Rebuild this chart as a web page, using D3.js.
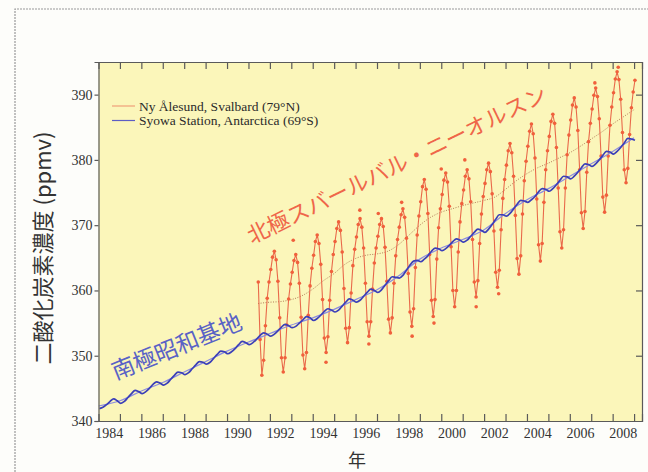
<!DOCTYPE html>
<html>
<head>
<meta charset="utf-8">
<script src="https://cdn.jsdelivr.net/npm/d3@7"></script>
<style>
  body { margin: 0; background: #fdfdfa; }
  svg { display: block; }
</style>
</head>
<body>
<div id="chart"></div>
<script>
// Ny-Alesund, monthly values starting June 1991 (ppmv)
const nyStart = [1991, 6]
const nyAlesund = [
  361.3, 352.5, 347.0, 349.3, 354.6, 358.8, 361.3,
  363.2, 365.1, 366.0, 364.7, 361.4, 355.8, 349.7, 347.5, 349.7, 354.7, 358.7, 361.0,
  362.8, 364.6, 365.5, 364.3, 361.1, 355.9, 350.1, 348.0, 350.5, 356.2, 360.7, 363.4,
  365.4, 367.5, 368.5, 367.2, 364.0, 358.6, 352.7, 350.5, 352.9, 358.5, 362.9, 365.5,
  367.5, 369.5, 370.5, 369.2, 365.9, 360.3, 354.2, 352.0, 354.3, 359.6, 363.8, 366.3,
  368.2, 370.1, 371.0, 369.7, 366.5, 361.1, 355.2, 353.0, 355.2, 360.2, 364.2, 366.5,
  368.3, 370.1, 371.0, 369.8, 366.6, 361.4, 355.6, 353.5, 355.8, 361.1, 365.3, 367.8,
  369.7, 371.6, 372.5, 371.2, 368.0, 362.6, 356.7, 354.5, 357.2, 363.5, 368.5, 371.4,
  373.6, 375.9, 377.0, 375.5, 371.8, 365.5, 358.5, 356.0, 358.6, 364.8, 369.6, 372.5,
  374.7, 376.9, 378.0, 376.6, 372.9, 366.7, 360.0, 357.5, 360.0, 365.9, 370.5, 373.3,
  375.4, 377.5, 378.5, 377.1, 373.6, 367.8, 361.3, 359.0, 361.5, 367.2, 371.7, 374.4,
  376.4, 378.5, 379.5, 378.2, 374.8, 369.1, 362.8, 360.5, 363.1, 369.3, 374.1, 377.0,
  379.2, 381.4, 382.5, 381.1, 377.5, 371.5, 364.9, 362.5, 365.3, 371.7, 376.8, 379.8,
  382.1, 384.4, 385.5, 384.0, 380.3, 374.0, 367.0, 364.5, 367.2, 373.5, 378.5, 381.4,
  383.6, 385.9, 387.0, 385.6, 381.9, 375.7, 369.0, 366.5, 369.3, 375.7, 380.8, 383.8,
  386.1, 388.4, 389.5, 388.1, 384.5, 378.5, 371.9, 369.5, 372.1, 378.1, 382.8, 385.6,
  387.8, 389.9, 391.0, 389.7, 386.3, 380.6, 374.3, 372.0, 374.6, 380.6, 385.3, 388.1,
  390.3, 392.4, 393.5, 392.3, 389.3, 384.2, 378.5, 376.5, 378.7, 383.9, 388.0, 390.4,
  392.2
]
// single samples lying off the monthly curve
const nyScatter = [
  [1993.09, 367.7], [1994.62, 349.0], [1996.2, 372.3], [1996.62, 351.8],
  [1997.06, 371.8], [1998.15, 373.5], [1998.64, 353.0], [1999.66, 355.0],
  [2000.0, 378.6], [2001.1, 380.0], [2001.63, 357.5], [2002.68, 359.5],
  [2007.17, 391.8], [2008.26, 394.2]
]
// smoothed Ny-Alesund trend (dotted)
const nyTrend = [
  [1991.45, 358.0], [1992.0, 358.2], [1992.5, 358.3], [1993.0, 358.6], [1993.5, 359.2],
  [1994.0, 360.2], [1994.5, 361.5], [1995.0, 362.6], [1995.5, 364.0], [1996.0, 364.9],
  [1996.5, 365.4], [1997.0, 365.6], [1997.5, 366.0], [1998.0, 367.0], [1998.5, 368.5],
  [1999.0, 370.0], [1999.5, 371.2], [2000.0, 372.0], [2000.5, 372.5], [2001.0, 373.0],
  [2001.5, 373.4], [2002.0, 373.8], [2002.5, 374.3], [2003.0, 375.5], [2003.5, 376.8],
  [2004.0, 377.9], [2004.5, 378.8], [2005.0, 379.5], [2005.5, 380.3], [2006.0, 381.1],
  [2006.5, 382.1], [2007.0, 383.2], [2007.5, 384.3], [2008.0, 385.5], [2008.5, 386.6],
  [2009.0, 387.7]
]

// Syowa, bimonthly values (Jan, Mar, May, Jul, Sep, Nov) from Jan 1984
const syowa = [
  341.9, 342.1, 342.5, 343.0, 343.4, 343.1,
  342.7, 343.0, 343.6, 344.2, 344.7, 344.5,
  344.2, 344.5, 345.0, 345.6, 346.0, 345.8,
  345.5, 345.8, 346.4, 347.0, 347.5, 347.4,
  347.1, 347.4, 348.0, 348.6, 349.1, 349.0,
  348.7, 349.0, 349.6, 350.2, 350.7, 350.6,
  350.3, 350.6, 351.1, 351.7, 352.2, 352.0,
  351.7, 352.0, 352.5, 353.1, 353.5, 353.3,
  353.0, 353.3, 353.8, 354.4, 354.8, 354.6,
  354.3, 354.5, 355.0, 355.5, 356.0, 355.8,
  355.4, 355.7, 356.2, 356.8, 357.2, 357.0,
  356.7, 357.0, 357.6, 358.2, 358.7, 358.5,
  358.2, 358.5, 359.1, 359.7, 360.2, 360.0,
  359.7, 360.1, 360.8, 361.5, 362.1, 362.0,
  361.9, 362.3, 363.1, 363.9, 364.5, 364.6,
  364.4, 364.8, 365.3, 366.0, 366.5, 366.4,
  366.1, 366.4, 366.9, 367.5, 367.9, 367.7,
  367.4, 367.7, 368.3, 368.9, 369.4, 369.2,
  368.9, 369.4, 370.1, 370.9, 371.6, 371.6,
  371.4, 371.8, 372.5, 373.2, 373.8, 373.7,
  373.5, 373.9, 374.4, 375.1, 375.6, 375.5,
  375.2, 375.6, 376.2, 376.9, 377.5, 377.4,
  377.1, 377.5, 378.1, 378.8, 379.4, 379.3,
  379.0, 379.4, 380.0, 380.7, 381.3, 381.2,
  380.9, 381.3, 381.9, 382.6, 383.3, 383.2,
  383.0
]
// Syowa trend, value at the start of each year 1984-2009
const syowaTrend = [
  342.3, 343.1, 344.6, 345.9, 347.5, 349.1, 350.7, 352.1, 353.4, 354.7,
  355.8, 357.1, 358.6, 360.1, 362.2, 364.8, 366.5, 367.8, 369.3, 371.8,
  373.9, 375.6, 377.5, 379.4, 381.3, 383.4
]

const yTicks = [340, 350, 360, 370, 380, 390]
const yearLabels = [1984, 1986, 1988, 1990, 1992, 1994, 1996, 1998, 2000, 2002, 2004, 2006, 2008]
const legendItems = [
  { name: 'Ny Ålesund, Svalbard (79°N)', color: '#f0a07a' },
  { name: 'Syowa Station, Antarctica (69°S)', color: '#5d5dc4' },
]

const width = 648
const height = 472
const margin = { left: 98.5, right: 6, top: 62, bottom: 51 }

const svg = d3
  .select('#chart')
  .append('svg')
  .attr('width', width)
  .attr('height', height)

// scanned page frame
svg.append('path')
  .attr('d', `M15,${height} V9 H${width}`)
  .attr('fill', 'none')
  .attr('stroke', '#9a9a9a')
  .attr('stroke-width', 1.2)
  .attr('stroke-dasharray', '2,1')

const x = d3.scaleLinear().domain([1984, 2009.37]).range([margin.left, width - margin.right])
const y = d3.scaleLinear().domain([340, 395]).range([height - margin.bottom, margin.top])

svg.append('defs').append('clipPath').attr('id', 'plot')
  .append('rect')
  .attr('x', x(1984)).attr('y', y(395))
  .attr('width', x(2009.37) - x(1984)).attr('height', y(340) - y(395))

svg.append('rect')
  .attr('x', x(1984)).attr('y', y(395))
  .attr('width', x(2009.37) - x(1984)).attr('height', y(340) - y(395))
  .attr('fill', '#fbf6ba')

const g = svg.append('g').attr('clip-path', 'url(#plot)')

const nyData = nyAlesund.map((v, i) => [nyStart[0] + (nyStart[1] - 1 + i + 0.5) / 12, v])
const syowaData = syowa.map((v, i) => [1984 + (2 * i + 0.5) / 12, v])
const syowaTrendData = syowaTrend.map((v, i) => [1984 + i, v])

const line = d3.line().x((d) => x(d[0])).y((d) => y(d[1]))
const smooth = d3.line().x((d) => x(d[0])).y((d) => y(d[1])).curve(d3.curveMonotoneX)

// red trend
g.append('path')
  .attr('d', smooth(nyTrend))
  .attr('fill', 'none')
  .attr('stroke', '#b27a58')
  .attr('stroke-width', 1)
  .attr('stroke-dasharray', '1,1.5')

// red monthly line + samples
g.append('path')
  .attr('d', line(nyData))
  .attr('fill', 'none')
  .attr('stroke', '#e9694a')
  .attr('stroke-width', 1.1)

g.selectAll('circle.ny')
  .data(nyData.concat(nyScatter))
  .join('circle')
  .attr('class', 'ny')
  .attr('cx', (d) => x(d[0]))
  .attr('cy', (d) => y(d[1]))
  .attr('r', 1.8)
  .attr('fill', '#f0603c')

// blue lines
g.append('path')
  .attr('d', smooth(syowaTrendData))
  .attr('fill', 'none')
  .attr('stroke', '#8c8ce0')
  .attr('stroke-width', 1.2)

g.append('path')
  .attr('d', smooth(syowaData))
  .attr('fill', 'none')
  .attr('stroke', '#3b3fb8')
  .attr('stroke-width', 1.7)

// annotations
svg.append('text')
  .attr('transform', 'translate(396,163) rotate(-26)')
  .attr('text-anchor', 'middle')
  .attr('dominant-baseline', 'central')
  .style('font-family', '"Noto Sans CJK JP", sans-serif')
  .style('font-size', '22px')
  .attr('fill', '#ef6649')
  .text('北極スバールバル・ニーオルスン')

svg.append('text')
  .attr('transform', 'translate(176,345) rotate(-22)')
  .attr('text-anchor', 'middle')
  .attr('dominant-baseline', 'central')
  .style('font-family', '"Noto Sans CJK JP", sans-serif')
  .style('font-size', '23px')
  .attr('fill', '#5962c6')
  .text('南極昭和基地')

// legend
const legend = svg.append('g').attr('transform', 'translate(112,106)')
legend.selectAll('g')
  .data(legendItems)
  .join('g')
  .attr('transform', (d, i) => `translate(0,${i * 14.5})`)
  .call((s) => {
    s.append('line')
      .attr('x1', 0).attr('x2', 23)
      .attr('stroke', (d) => d.color)
      .attr('stroke-width', 1.2)
    s.append('text')
      .attr('x', 27)
      .attr('dy', '0.35em')
      .style('font-family', '"Liberation Serif", serif')
      .style('font-size', '13.5px')
      .attr('fill', '#2a2a2a')
      .text((d) => d.name)
  })

// axes
const axisColor = '#5a5a5a'
const yearTicks = d3.range(1985, 2010)

const axBottom = svg.append('g')
  .attr('transform', `translate(0,${y(340)})`)
  .call(d3.axisBottom(x).tickValues(yearTicks).tickSize(-7).tickFormat(''))
const axTop = svg.append('g')
  .attr('transform', `translate(0,${y(395)})`)
  .call(d3.axisTop(x).tickValues(yearTicks).tickSize(-7).tickFormat(''))
const axLeft = svg.append('g')
  .attr('transform', `translate(${x(1984)},0)`)
  .call(d3.axisLeft(y).tickValues(yTicks).tickSize(4).tickPadding(2))
const axRight = svg.append('g')
  .attr('transform', `translate(${x(2009.37)},0)`)
  .call(d3.axisRight(y).tickValues(yTicks.slice(1)).tickSize(-6).tickFormat(''))

for (const a of [axBottom, axTop, axLeft, axRight]) {
  a.select('.domain').attr('stroke', axisColor).attr('stroke-width', 1.2)
  a.selectAll('.tick line').attr('stroke', axisColor).attr('stroke-width', 1.2)
}
axLeft.selectAll('.tick text')
  .style('font-family', '"Liberation Serif", serif')
  .style('font-size', '14px')
  .attr('fill', '#333')

svg.append('g')
  .selectAll('text')
  .data(yearLabels)
  .join('text')
  .attr('x', (d) => x(d + 0.5))
  .attr('y', 438)
  .attr('text-anchor', 'middle')
  .style('font-family', '"Liberation Serif", serif')
  .style('font-size', '14px')
  .attr('fill', '#333')
  .text((d) => d)

// axis titles
svg.append('text')
  .attr('transform', 'translate(41,248) rotate(-90)')
  .attr('text-anchor', 'middle')
  .attr('dominant-baseline', 'central')
  .style('font-family', '"Noto Sans CJK JP", sans-serif')
  .style('font-size', '22px')
  .attr('fill', '#333')
  .text('二酸化炭素濃度 (ppmv)')

svg.append('text')
  .attr('x', 357)
  .attr('y', 459)
  .attr('text-anchor', 'middle')
  .attr('dominant-baseline', 'central')
  .style('font-family', '"Noto Sans CJK JP", sans-serif')
  .style('font-size', '18px')
  .attr('fill', '#333')
  .text('年')
</script>
</body>
</html>
